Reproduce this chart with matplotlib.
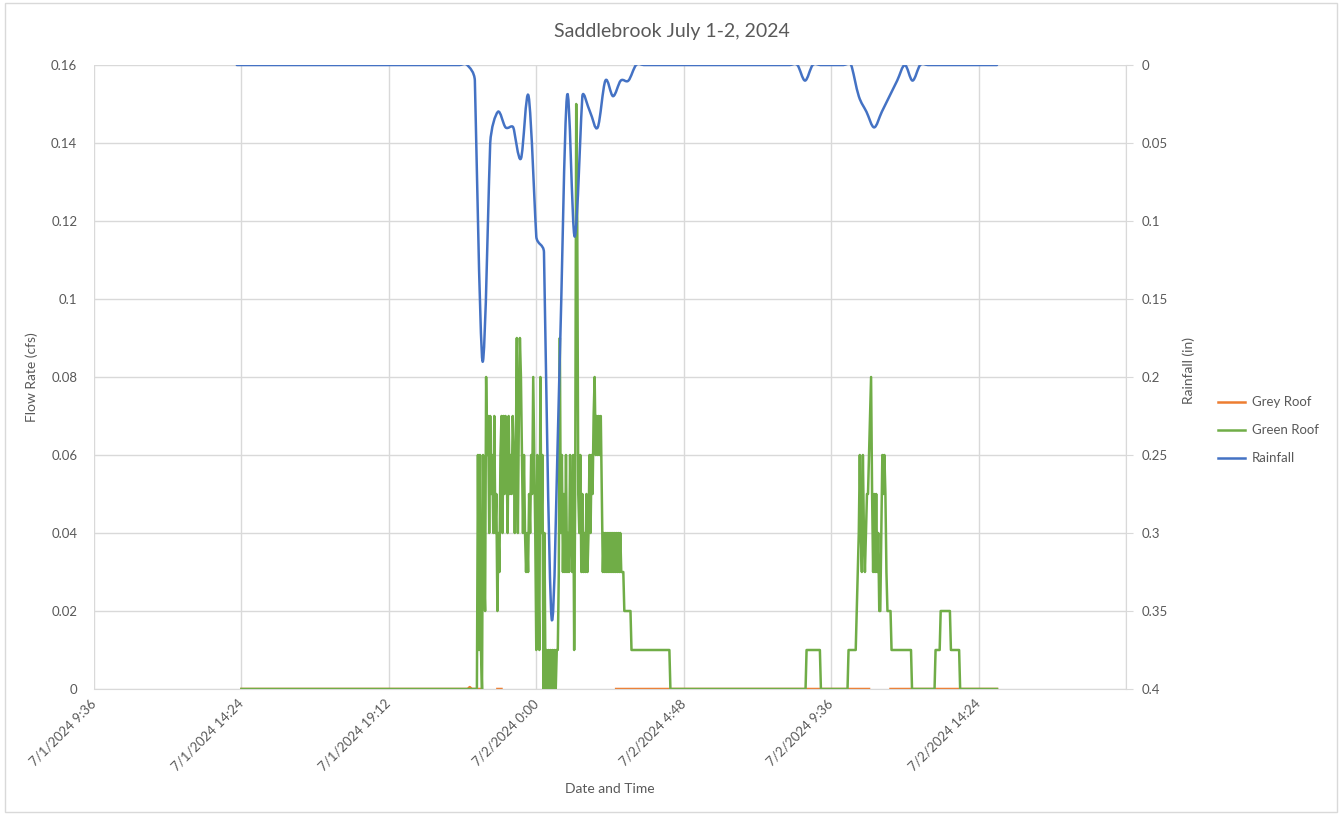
import numpy as np
import pandas as pd
import matplotlib
matplotlib.use("Agg")
import matplotlib.pyplot as plt
import matplotlib.dates as mdates
from matplotlib.path import Path
from matplotlib.patches import PathPatch, Rectangle
from matplotlib.lines import Line2D

plt.rcParams['font.family'] = ['Lato', 'DejaVu Sans']

# ---- data ----
# green roof flow (cfs): flat zero outside the two storm pulses, 2-minute readings inside them
green_first = "2024-07-01 14:24"
green_last = "2024-07-02 15:00"

green_start_1 = "2024-07-01 22:02"
green_flow_1 = [0, 0, 0.06, 0.01, 0.06, 0.01, 0, 0.06, 0.03, 0.02,
                0.08, 0.06, 0.07, 0.04, 0.07, 0.05, 0.06, 0.04, 0.07, 0.04,
                0.05, 0.02, 0.04, 0.03, 0.06, 0.07, 0.04, 0.07, 0.05, 0.07,
                0.06, 0.04, 0.07, 0.05, 0.06, 0.05, 0.07, 0.06, 0.04, 0.06,
                0.09, 0.04, 0.07, 0.09, 0.08, 0.06, 0.04, 0.06, 0.04, 0.03,
                0.04, 0.03, 0.05, 0.04, 0.06, 0.05, 0.08, 0.06, 0.04, 0.01,
                0.06, 0.03, 0.01, 0.08, 0.04, 0.06, 0, 0.04, 0, 0.01,
                0, 0.01, 0, 0.01, 0, 0.01, 0, 0.01, 0, 0.01,
                0.01, 0.03, 0.09, 0.04, 0.06, 0.03, 0.05, 0.03, 0.06, 0.03,
                0.04, 0.03, 0.06, 0.04, 0.03, 0.06, 0.01, 0.05, 0.15, 0.12,
                0.05, 0.04, 0.06, 0.03, 0.05, 0.03, 0.04, 0.03, 0.05, 0.03,
                0.04, 0.06, 0.04, 0.06, 0.05, 0.07, 0.08, 0.06, 0.07, 0.06,
                0.07, 0.06, 0.07, 0.05, 0.03, 0.04, 0.03, 0.04, 0.03, 0.04,
                0.03, 0.04, 0.03, 0.04, 0.03, 0.04, 0.03, 0.04, 0.03, 0.04,
                0.03, 0.04, 0.03, 0.03, 0.03] \
    + [0.02] * 7 + [0.01] * 38 + [0]

green_start_2 = "2024-07-02 08:44"
green_flow_2 = [0, 0] + [0.01] * 14 + [0] * 27 + [0.01] * 8 \
    + [0.02, 0.03, 0.04, 0.06, 0.04, 0.03, 0.06, 0.04, 0.03, 0.04,
       0.05, 0.05, 0.06, 0.07, 0.08, 0.05, 0.03, 0.05, 0.03, 0.05,
       0.03, 0.04, 0.02, 0.02, 0.04, 0.06, 0.05, 0.06, 0.05, 0.03] \
    + [0.02] * 4 + [0.01] * 20 + [0] * 23 + [0.01] * 5 + [0.02] * 10 \
    + [0.01] * 9 + [0]

# grey roof flow (cfs): essentially zero, with short gaps in the record
grey_times = ["2024-07-01 14:24", "2024-07-01 21:46", "2024-07-01 21:50", "2024-07-01 21:54",
              "2024-07-01 22:10", "2024-07-01 22:11", "2024-07-01 22:44", "2024-07-01 22:52",
              "2024-07-01 22:53", "2024-07-02 02:36", "2024-07-02 10:50", "2024-07-02 10:51",
              "2024-07-02 11:32", "2024-07-02 15:00"]
grey_flow = [0, 0, 0.0005, 0, 0, np.nan, 0, 0, np.nan, 0, 0, np.nan, 0, 0]

# rainfall (in), 15-minute totals
rain_start = "2024-07-01 14:15"
rain_in = [0] * 31 \
    + [0.01, 0.19, 0.05, 0.03, 0.04, 0.04, 0.06, 0.02, 0.11, 0.12, 0.355,
       0.20, 0.02, 0.11, 0.02, 0.03, 0.04, 0.01, 0.02, 0.01, 0.01] \
    + [0] * 22 + [0.01] + [0] * 6 \
    + [0.02, 0.03, 0.04, 0.03, 0.02, 0.01, 0, 0.01] + [0] * 11

left_ticks = [0, 0.02, 0.04, 0.06, 0.08, 0.1, 0.12, 0.14, 0.16]
right_ticks = [0, 0.05, 0.1, 0.15, 0.2, 0.25, 0.3, 0.35, 0.4]

# ---- series ----
t1 = pd.date_range(green_start_1, periods=len(green_flow_1), freq="2min")
t2 = pd.date_range(green_start_2, periods=len(green_flow_2), freq="2min")
green_t = [pd.Timestamp(green_first)] + list(t1) + list(t2) + [pd.Timestamp(green_last)]
green_v = [0] + green_flow_1 + green_flow_2 + [0]

grey_t = pd.to_datetime(grey_times)
rain_t = pd.date_range(rain_start, periods=len(rain_in), freq="15min")

c_grey = '#ED7D31'
c_green = '#70AD47'
c_rain = '#4472C4'
txt = '#595959'
gridc = '#D9D9D9'

fig = plt.figure(figsize=(13.43, 8.14), dpi=100)
ax = fig.add_axes([94 / 1343, 1 - 689 / 814, 1032 / 1343, 624 / 814])
ax2 = ax.twinx()

ax.plot(grey_t, grey_flow, color=c_grey, lw=1.8, zorder=2)
ax.plot(green_t, green_v, color=c_green, lw=1.8, zorder=3)

# axes limits and ticks
x0 = pd.Timestamp("2024-07-01 09:36")
xticks = [(x0 + pd.Timedelta(minutes=288 * k)).round('min') for k in range(8)]
ax.set_xlim(xticks[0], xticks[-1])
ax.set_xticks(xticks)
xlabels = [f"{d.month}/{d.day}/{d.year} {d.hour}:{d.minute:02d}" for d in xticks]
xlabels[-1] = ""
ax.set_xticklabels(xlabels, rotation=45, ha='right', va='center', rotation_mode='anchor')

ax.set_ylim(0, 0.16)
ax.set_yticks(left_ticks)
ax.set_yticklabels([f"{v:g}" for v in left_ticks])
ax2.set_ylim(0.4, 0)
ax2.set_yticks(right_ticks)
ax2.set_yticklabels([f"{v:g}" for v in right_ticks])

# smoothed rainfall line (Excel-style bezier smoothing, arms limited to half the chord)
xs = mdates.date2num(rain_t.to_pydatetime())
data_pts = np.column_stack([xs, np.array(rain_in, dtype=float)])
pts = ax2.transData.transform(data_pts)
n = len(pts)
arms = []
for i in range(n):
    pa = pts[max(i - 1, 0)]
    pb = pts[min(i + 1, n - 1)]
    t = (pb - pa) / 6
    tl = np.hypot(*t)
    d_prev = np.hypot(*(pts[i] - pa))
    d_next = np.hypot(*(pb - pts[i]))
    lim = 0.5 * min(d for d in (d_prev, d_next) if d > 0) if max(d_prev, d_next) > 0 else 0
    if tl > lim and tl > 0:
        t = t * lim / tl
    arms.append(t)
verts = [pts[0]]
codes = [Path.MOVETO]
for i in range(n - 1):
    verts += [pts[i] + arms[i], pts[i + 1] - arms[i + 1], pts[i + 1]]
    codes += [Path.CURVE4] * 3
verts = ax2.transData.inverted().transform(np.array(verts))
ax2.add_patch(PathPatch(Path(verts, codes), fill=False, edgecolor=c_rain, lw=1.8,
                        joinstyle='round', capstyle='round'))

ax.grid(True, color=gridc, lw=1.0)
ax.set_axisbelow(True)

for s in ['top', 'left', 'right']:
    ax.spines[s].set_visible(False)
for s in ['top', 'left', 'bottom']:
    ax2.spines[s].set_visible(False)
ax.spines['bottom'].set_color(gridc)
ax2.spines['right'].set_color(gridc)

ax.tick_params(axis='x', length=0, pad=9, labelsize=9.5, labelcolor=txt)
ax.tick_params(axis='y', length=0, pad=12, labelsize=9.5, labelcolor=txt)
ax2.tick_params(axis='y', length=5, color=gridc, pad=6, labelsize=9.5, labelcolor=txt)

ax.set_ylabel("Flow Rate (cfs)", fontsize=10, color=txt)
ax.yaxis.set_label_coords(-0.054, 0.5)
ax2.set_ylabel("Rainfall (in)", fontsize=10, color=txt)
ax2.yaxis.set_label_coords(1.055, 0.51)
ax.set_xlabel("Date and Time", fontsize=10, color=txt)
ax.xaxis.set_label_coords(0.5, -0.151)

fig.text(0.5, 1 - 32 / 814, "Saddlebrook July 1-2, 2024", ha='center', va='center',
         fontsize=14, color=txt)

# legend on the right
for name, col, yp in [("Grey Roof", c_grey, 402), ("Green Roof", c_green, 430), ("Rainfall", c_rain, 458)]:
    fy = 1 - yp / 814
    fig.add_artist(Line2D([1218 / 1343, 1245 / 1343], [fy, fy], color=col, lw=1.8,
                          transform=fig.transFigure))
    fig.text(1252 / 1343, fy, name, ha='left', va='center', fontsize=9.5, color=txt)

# chart border
fig.add_artist(Rectangle((5 / 1343, 2 / 814), 1332 / 1343, 809 / 814, fill=False,
                         edgecolor=gridc, lw=1.0, transform=fig.transFigure))

fig.savefig("out.png", dpi=100)
